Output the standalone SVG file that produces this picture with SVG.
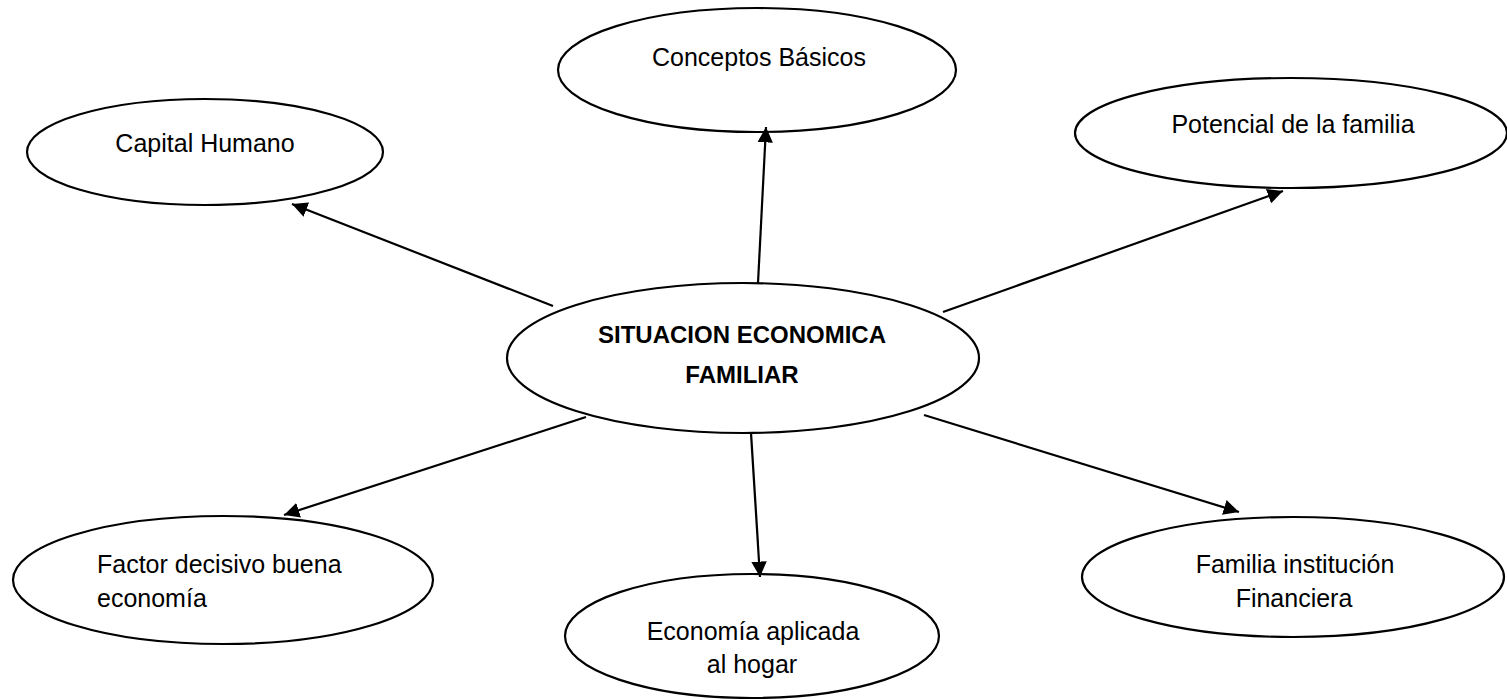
<svg xmlns="http://www.w3.org/2000/svg" width="1507" height="699" viewBox="0 0 1507 699">
<defs>
<style>
.node ellipse{fill:#fff;stroke:#000;stroke-width:2.2}
.lbl{font-family:"Liberation Sans",Arial,sans-serif;font-size:25px;fill:#000}
.c{text-anchor:middle}
.b{font-weight:bold;font-size:24px}
.edges line{stroke:#000;stroke-width:2.2;marker-end:url(#ah)}
</style>
<marker id="ah" viewBox="0 0 10 10" refX="10" refY="5" markerWidth="7" markerHeight="7" markerUnits="strokeWidth" orient="auto">
<path d="M0,0 L10,5 L0,10 z" fill="#000"/>
</marker>
</defs>
<rect width="1507" height="699" fill="#fff"/>
<g id="n-conceptos" class="node">
<ellipse cx="757" cy="70" rx="199" ry="62"/>
<text class="lbl c" x="759" y="66">Conceptos Básicos</text>
</g>
<g id="n-capital" class="node">
<ellipse cx="205" cy="152" rx="178" ry="53"/>
<text class="lbl c" x="205" y="152">Capital Humano</text>
</g>
<g id="n-potencial" class="node">
<ellipse cx="1291" cy="133" rx="216" ry="55"/>
<text class="lbl c" x="1293" y="133">Potencial de la familia</text>
</g>
<g id="n-centro" class="node">
<ellipse cx="743" cy="358" rx="236" ry="75"/>
<text class="lbl c b" x="742" y="343">SITUACION ECONOMICA</text>
<text class="lbl c b" x="742" y="383">FAMILIAR</text>
</g>
<g id="n-factor" class="node">
<ellipse cx="223" cy="580" rx="210" ry="64"/>
<text class="lbl" x="97" y="573">Factor decisivo buena</text>
<text class="lbl" x="97" y="607">economía</text>
</g>
<g id="n-economia" class="node">
<ellipse cx="752" cy="636" rx="187" ry="62"/>
<text class="lbl c" x="753" y="640">Economía aplicada</text>
<text class="lbl c" x="752" y="673">al hogar</text>
</g>
<g id="n-familia" class="node">
<ellipse cx="1293" cy="577" rx="211" ry="60"/>
<text class="lbl c" x="1295" y="573">Familia institución</text>
<text class="lbl c" x="1294" y="607">Financiera</text>
</g>
<g id="connectors" class="edges">
<line x1="758" y1="283" x2="766" y2="127"/>
<line x1="553" y1="306" x2="292" y2="204"/>
<line x1="943" y1="312" x2="1283" y2="191"/>
<line x1="586" y1="417" x2="284" y2="515"/>
<line x1="751" y1="433" x2="760" y2="577"/>
<line x1="924" y1="415" x2="1239" y2="512"/>
</g>
</svg>
